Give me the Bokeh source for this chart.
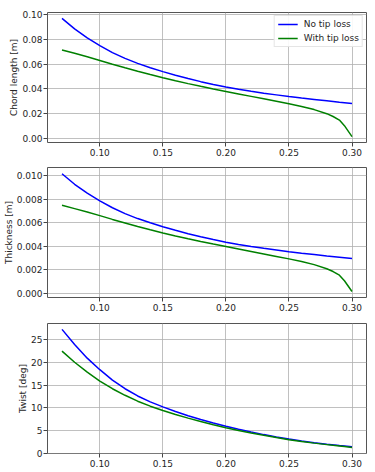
from bokeh.plotting import figure
from bokeh.layouts import column
from bokeh.models import FixedTicker, PrintfTickFormatter, Range1d, Legend, LegendItem
from bokeh.embed import file_html
from bokeh.resources import INLINE

radius = [0.07, 0.08, 0.09, 0.10, 0.11, 0.12, 0.13, 0.14, 0.15, 0.16, 0.17, 0.18,
          0.19, 0.20, 0.21, 0.22, 0.23, 0.24, 0.25, 0.26, 0.27, 0.28, 0.29, 0.30]
radius_tip = [0.07, 0.08, 0.09, 0.10, 0.11, 0.12, 0.13, 0.14, 0.15, 0.16, 0.17, 0.18,
              0.19, 0.20, 0.21, 0.22, 0.23, 0.24, 0.25, 0.26, 0.27, 0.28, 0.285, 0.29, 0.294, 0.30]

chord_no_tip = [0.0970, 0.0885, 0.0812, 0.0750, 0.0694, 0.0647, 0.0607, 0.0572, 0.0540, 0.0511, 0.0484, 0.0459,
                0.0436, 0.0415, 0.0397, 0.0381, 0.0366, 0.0352, 0.0338, 0.0326, 0.0315, 0.0304, 0.0293, 0.0283]
chord_tip = [0.0715, 0.0688, 0.0660, 0.0630, 0.0600, 0.0571, 0.0543, 0.0516, 0.0490, 0.0466, 0.0443, 0.0421,
             0.0400, 0.0380, 0.0360, 0.0340, 0.0320, 0.0300, 0.0280, 0.0258, 0.0233, 0.0200, 0.0177, 0.0148, 0.0103, 0.0015]

thick_no_tip = [0.01019, 0.00929, 0.00853, 0.00788, 0.00729, 0.00679, 0.00637, 0.00601, 0.00567, 0.00537, 0.00508, 0.00482,
                0.00458, 0.00436, 0.00417, 0.00400, 0.00384, 0.00370, 0.00355, 0.00342, 0.00331, 0.00319, 0.00308, 0.00297]
thick_tip = [0.00751, 0.00722, 0.00693, 0.00662, 0.00630, 0.00600, 0.00570, 0.00542, 0.00515, 0.00489, 0.00465, 0.00442,
             0.00420, 0.00399, 0.00378, 0.00357, 0.00336, 0.00315, 0.00294, 0.00271, 0.00245, 0.00210, 0.00186, 0.00155, 0.00108, 0.00016]

twist_no_tip = [27.3, 23.95, 20.95, 18.4, 16.1, 14.2, 12.6, 11.3, 10.2, 9.18, 8.25, 7.4,
                6.62, 5.9, 5.24, 4.63, 4.07, 3.56, 3.09, 2.67, 2.29, 1.95, 1.65, 1.38]
twist_tip = [22.5, 20.05, 17.85, 15.9, 14.2, 12.75, 11.45, 10.35, 9.4, 8.52, 7.71, 6.96,
             6.26, 5.6, 4.99, 4.43, 3.91, 3.42, 2.95, 2.55, 2.19, 1.86, 1.70, 1.55, 1.43, 1.25]

x_ticks = [0.10, 0.15, 0.20, 0.25, 0.30]
chord_ticks = [0.00, 0.02, 0.04, 0.06, 0.08, 0.10]
thick_ticks = [0.000, 0.002, 0.004, 0.006, 0.008, 0.010]
twist_ticks = [0, 5, 10, 15, 20, 25]

FONT = "DejaVu Sans"
BLUE = "#0000ff"
GREEN = "#008000"
TXT = "#262626"


def make_panel(ylabel, y_blue, y_green, yticks, yfmt, yb, yt, top_border, legend=False):
    p = figure(width=375, frame_height=130, output_backend="svg", toolbar_location=None,
               x_range=Range1d(0.0585, 0.3115), y_range=Range1d(yb, yt),
               min_border_left=45, min_border_right=9, min_border_top=top_border, min_border_bottom=0)
    l1 = p.line(radius, y_blue, line_color=BLUE, line_width=1.5)
    l2 = p.line(radius_tip, y_green, line_color=GREEN, line_width=1.5)
    p.outline_line_color = "#555555"
    p.outline_line_width = 1
    p.background_fill_color = "white"
    p.border_fill_color = "white"
    for ax in (p.xaxis, p.yaxis):
        ax.axis_line_color = None
        ax.major_tick_line_color = "#444444"
        ax.major_tick_out = 4
        ax.major_tick_in = 0
        ax.minor_tick_line_color = None
        ax.major_label_text_font = FONT
        ax.major_label_text_font_size = "9px"
        ax.major_label_text_color = TXT
        ax.major_label_standoff = 1
    p.xaxis.major_label_standoff = 2
    p.xaxis.ticker = FixedTicker(ticks=x_ticks)
    p.xaxis.formatter = PrintfTickFormatter(format="%.2f")
    p.yaxis.ticker = FixedTicker(ticks=yticks)
    p.yaxis.formatter = PrintfTickFormatter(format=yfmt)
    p.yaxis.axis_label = ylabel
    p.yaxis.axis_label_text_font = FONT
    p.yaxis.axis_label_text_font_size = "9px"
    p.yaxis.axis_label_text_font_style = "normal"
    p.yaxis.axis_label_text_color = TXT
    p.yaxis.axis_label_standoff = 0
    p.xgrid.grid_line_color = "#b0b0b0"
    p.ygrid.grid_line_color = "#b0b0b0"
    p.xgrid.grid_line_width = 0.8
    p.ygrid.grid_line_width = 0.8
    if legend:
        lg = Legend(items=[LegendItem(label="No tip loss", renderers=[l1]),
                           LegendItem(label="With tip loss", renderers=[l2])],
                    location="top_right")
        lg.label_text_font = FONT
        lg.label_text_font_size = "9px"
        lg.label_text_color = TXT
        lg.border_line_color = "#cccccc"
        lg.border_line_width = 1
        lg.background_fill_alpha = 0.9
        lg.glyph_width = 20
        lg.glyph_height = 10
        lg.label_height = 10
        lg.spacing = 4
        lg.padding = 3
        lg.margin = 3
        lg.label_standoff = 6
        p.add_layout(lg)
    return p


p1 = make_panel("Chord length [m]", chord_no_tip, chord_tip, chord_ticks, "%.2f", -0.0033, 0.1018, 12, legend=True)
p2 = make_panel("Thickness [m]", thick_no_tip, thick_tip, thick_ticks, "%.3f", -0.00035, 0.01072, 9)
p3 = make_panel("Twist [deg]", twist_no_tip, twist_tip, twist_ticks, "%d", -0.1, 28.6, 10)

layout = column(p1, p2, p3, spacing=0)
open("out.html", "w").write(file_html(layout, INLINE))
